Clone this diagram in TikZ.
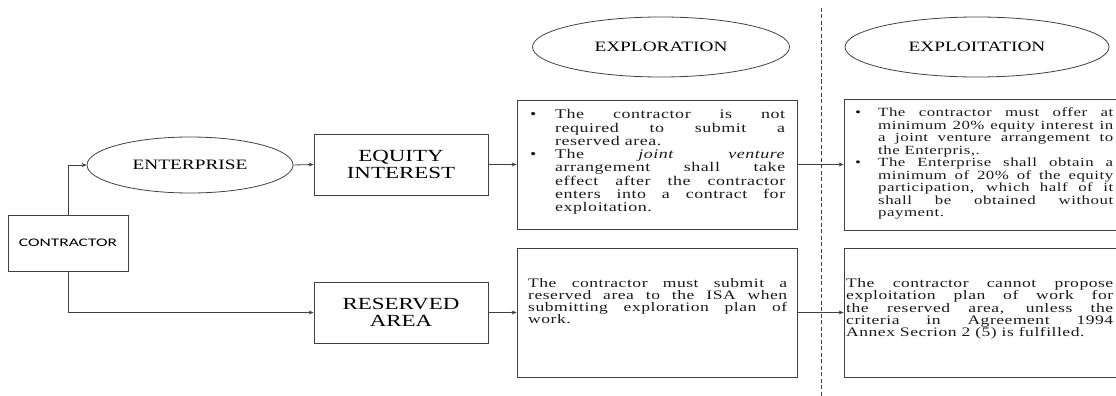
\documentclass[tikz,border=0pt]{standalone}
\usepackage{fontspec}
\setmainfont{Liberation Serif}[FakeStretch=1.35]
\newfontfamily\bodyfont{Liberation Serif}[FakeStretch=1.35,LetterSpace=4]
\newfontfamily\cfont{Carlito}[FakeStretch=1.5]
\usetikzlibrary{arrows.meta,shapes.geometric}
\newlength{\bind}
\newlength{\tw}
\newcommand{\bl}[1]{\leavevmode\makebox[\bind][l]{\textbullet}\hbox to \dimexpr\tw-\bind\relax{#1}}
\newcommand{\il}[1]{\leavevmode\hspace*{\bind}\hbox to \dimexpr\tw-\bind\relax{#1}}
\newcommand{\ilast}[1]{\leavevmode\hspace*{\bind}#1}
\newcommand{\jl}[1]{\leavevmode\hbox to \tw{#1}}
\newcommand{\prep}[2]{\setlength{\tw}{#1}\setlength{\bind}{#2}\spaceskip=0pt\xspaceskip=0pt\relax}
\begin{document}
\begin{tikzpicture}[x=1pt,y=-1pt,
  ln/.style={draw=black!75, line width=0.8pt},
  arr/.style={ln, -{Stealth[length=5pt,width=4pt]}},
  boxn/.style={draw=black!75, line width=0.8pt, rectangle, inner sep=0pt, align=center},
  elln/.style={draw=black!75, line width=0.8pt, ellipse, inner sep=0pt, align=center},
  lbl/.style={font=\fontsize{17}{16.7}\selectfont},
  elbl/.style={font=\fontsize{14.3}{15}\selectfont},
  txt/.style={inner sep=0pt, anchor=north west, align=left, text=black!90}
]
\useasboundingbox (0,0) rectangle (1116,396);
\clip (0,0) rectangle (1116,396);

% nodes
\node[boxn, minimum width=120pt, minimum height=56pt] (con) at (68,243)
  {\cfont\fontsize{11.6}{14}\selectfont CONTRACTOR};
\node[elln, elbl, minimum width=206pt, minimum height=56pt] (ent) at (190,165) {ENTERPRISE};
\node[boxn, lbl, minimum width=174pt, minimum height=61pt] (eq) at (401,164.5) {EQUITY\\INTEREST};
\node[boxn, lbl, minimum width=174pt, minimum height=61pt] (res) at (401,312.5) {RESERVED\\AREA};
\node[elln, elbl, minimum width=257pt, minimum height=60pt] (xpl) at (661,47) {EXPLORATION};
\node[elln, elbl, minimum width=264pt, minimum height=60pt] (xpt) at (977,47) {EXPLOITATION};
\node[boxn, minimum width=280pt, minimum height=129pt] (ex1) at (657,164.5) {};
\node[boxn, minimum width=280pt, minimum height=129pt] (ex2) at (657,312.5) {};
\node[boxn, minimum width=274pt, minimum height=131pt] (ep1) at (981,164.5) {};
\node[boxn, minimum width=274pt, minimum height=129pt] (ep2) at (981,312.5) {};

% dashed divider
\coordinate (dtop) at (821,8);
\coordinate (dbot) at (821,396);
\draw[ln, dash pattern=on 4pt off 2.5pt] (dtop) -- (dbot);

% texts
\node[txt, text width=255pt, font=\bodyfont\fontsize{13.3}{13.3}\selectfont] (t1) at (530,109.3) {%
\prep{255pt}{25pt}%
\bl{The contractor is not}\\
\il{required to submit a}\\
\ilast{reserved area.}\\
\bl{The \textit{joint} \textit{venture}}\\
\il{arrangement shall take}\\
\il{effect after the contractor}\\
\il{enters into a contract for}\\
\ilast{exploitation.}};

\node[txt, text width=258pt, font=\bodyfont\fontsize{12.5}{12.5}\selectfont] (t2) at (855,107.6) {%
\prep{258pt}{23pt}%
\bl{The contractor must offer at}\\
\il{minimum 20\% equity interest in}\\
\il{a joint venture arrangement to}\\
\ilast{the Enterpris,.}\\
\bl{The Enterprise shall obtain a}\\
\il{minimum of 20\% of the equity}\\
\il{participation, which half of it}\\
\il{shall be obtained without}\\
\ilast{payment.}};

\node[txt, text width=259pt, font=\bodyfont\fontsize{13}{11.7}\selectfont] (t3) at (528,278.4) {%
\prep{259pt}{0pt}%
\jl{The contractor must submit a}\\
\jl{reserved area to the ISA when}\\
\jl{submitting exploration plan of}\\
work.};

\node[txt, text width=267pt, font=\bodyfont\fontsize{13}{12.2}\selectfont] (t4) at (846,278.4) {%
\prep{267pt}{0pt}%
\jl{The contractor cannot propose}\\
\jl{exploitation plan of work for}\\
\jl{the reserved area, unless the}\\
\jl{criteria in Agreement 1994}\\
Annex Secrion 2 (5) is fulfilled.};

% connectors
\draw[arr] (con.north) |- (ent.west);
\draw[arr] (con.south) |- (res.west);
\draw[arr] (ent.east) -- (eq.west);
\draw[arr] (eq.east) -- (ex1.west);
\draw[arr] (res.east) -- (ex2.west);
\draw[arr] (ex1.east) -- (ep1.west);
\draw[arr] (ex2.east) -- (ep2.west);
\end{tikzpicture}
\end{document}
